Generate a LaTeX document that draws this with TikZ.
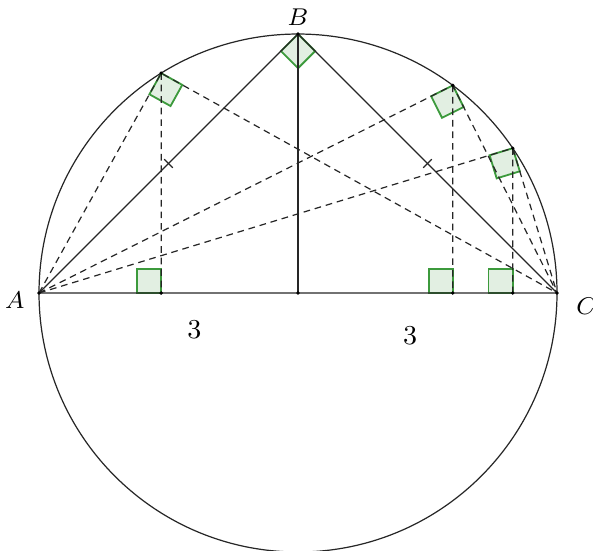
\documentclass[tikz,border=0pt]{standalone}
\usepackage{tikz}
\usetikzlibrary{calc}
\definecolor{anglegreen}{HTML}{3C9A3C}
\definecolor{anglefill}{HTML}{E2EFE2}
% right angle square at #1 between the rays to #2 and #3
\newcommand{\rangsquare}[3]{%
  \coordinate (ra1) at ($(#1)!0.28cm!(#2)$);
  \coordinate (ra2) at ($(#1)!0.28cm!(#3)$);
  \filldraw[anglegreen, fill=anglefill, line width=0.6pt]
    (#1) -- (ra1) -- ($(ra1)+(ra2)-(#1)$) -- (ra2) -- cycle;}
\newcommand{\tickmark}[2]{%
  \coordinate (tm) at ($(#1)!0.5!(#2)$);
  \draw ($(tm)!0.07cm!90:(#2)$) -- ($(tm)!0.07cm!-90:(#2)$);}

\begin{document}
\begin{tikzpicture}[line width=0.4pt, draw=black!85,
    dashline/.style={dash pattern=on 2.2pt off 1.6pt},
    ptlabel/.style={font=\fontsize{8.5}{10}\selectfont},
    numlabel/.style={font=\fontsize{9}{11}\selectfont}]
  \useasboundingbox (-3.452,-2.977) rectangle (3.417,3.394);
  \coordinate (O) at (0,0);
  \coordinate (A) at (-3,0);
  \coordinate (B) at (0,3);
  \coordinate (C) at (3,0);
  \foreach \nm/\ang in {P/121.9, Q/53.3, R/34}{
    \coordinate (\nm) at (\ang:3);
    \coordinate (\nm f) at ($(A)!(\nm)!(C)$);
  }

  % right angles
  \rangsquare{B}{A}{C}
  \foreach \nm in {P,Q,R}{
    \rangsquare{\nm}{A}{C}
    \rangsquare{\nm f}{A}{\nm}
  }

  \draw (O) circle (3);
  \draw (A) -- (B) -- (C) -- cycle;
  \draw (B) -- (O);
  \foreach \nm in {P,Q,R}
    \draw[dashline] (A) -- (\nm) -- (C) (\nm) -- (\nm f);
  \tickmark{A}{B}
  \tickmark{B}{C}

  \foreach \p in {A,B,C,O,P,Q,R,Pf,Qf,Rf}
    \fill (\p) circle (0.022);

  \node[ptlabel] (labA) at (-3.28,-0.08) {$A$};
  \node[ptlabel] (labB) at (0,3.2) {$B$};
  \node[ptlabel] (labC) at (3.34,-0.15) {$C$};
  \node[numlabel] (len1) at (-1.2,-0.43) {3};
  \node[numlabel] (len2) at (1.3,-0.5) {3};
\end{tikzpicture}
\end{document}
